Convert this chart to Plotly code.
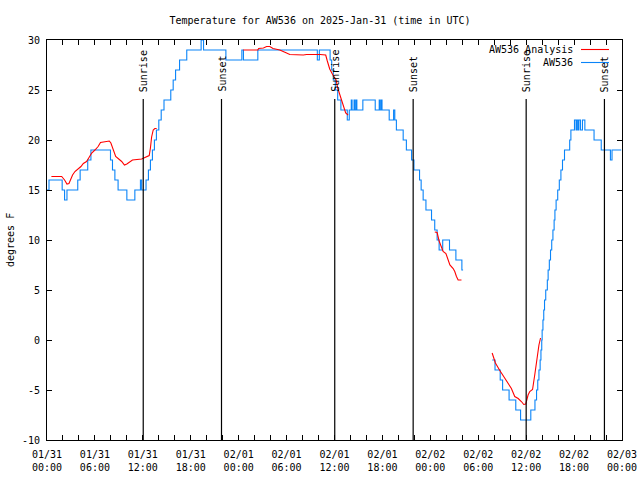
import pandas as pd
import plotly.graph_objects as go

BASE = pd.Timestamp("2025-01-31 00:00")

# ---- Observations (AW536), step changes: hour after BASE, temperature F ----
obs_hours_1 = [0.0, 0.25, 1.9, 2.2, 2.5, 3.85, 4.15, 5.1, 5.5, 7.95, 8.2, 8.5, 8.9, 10.0, 11.0,
               11.7, 11.85, 12.4, 12.7, 12.95, 13.2, 13.45, 13.7, 14.0, 14.3, 14.65, 15.5, 15.8,
               16.1, 16.6, 17.5, 19.3, 19.6, 22.4, 24.4, 24.6, 26.4, 33.85, 34.1, 35.45, 35.65,
               35.85, 36.1, 36.4, 36.8, 37.6, 37.85, 38.1, 38.2, 38.45, 38.55, 38.7, 38.8, 39.55,
               41.1, 41.6, 41.7, 41.85, 41.95, 42.85, 43.4, 43.55, 43.75, 44.6, 45.0, 45.65,
               45.95, 46.65, 46.85, 47.1, 47.45, 48.15, 48.55, 48.85, 49.1, 49.55, 50.4, 51.2,
               51.95, 52.1]
obs_temps_1 = [15, 16, 15, 14, 15, 16, 17, 18, 19, 18, 17, 16, 15, 14, 15,
               16, 15, 16, 17, 18, 19, 20, 21, 22, 23, 24, 25, 26,
               27, 28, 29, 30, 29, 28, 29, 28, 29, 28, 29, 28, 27,
               26, 25, 24, 23, 22, 23, 24, 23, 24, 23, 24, 23, 24,
               23, 24, 23, 24, 23, 22, 23, 22, 21, 20, 19, 18,
               17, 16, 15, 14, 13, 12, 11, 10, 9, 10, 9, 8,
               7, 7]
obs_hours_2 = [55.75, 56.1, 56.75, 57.05, 57.86, 58.7, 59.3, 60.58, 61.1, 61.3, 61.45, 61.6,
               61.75, 61.85, 61.95, 62.0, 62.1, 62.2, 62.3, 62.45, 62.65, 62.75, 62.9, 63.05,
               63.2, 63.35, 63.5, 63.6, 63.75, 63.95, 64.15, 64.35, 64.55, 64.8, 65.45, 65.6,
               66.05, 66.25, 66.35, 66.5, 66.6, 66.8, 67.05, 67.35, 68.5, 69.4, 70.55, 70.75, 71.9]
obs_temps_2 = [-2, -3, -4, -5, -6, -7, -8, -7, -6, -5, -4, -3,
               -2, -1, 0, 1, 2, 3, 4, 5, 6, 7, 8, 9,
               10, 11, 12, 13, 14, 15, 16, 17, 18, 19, 20, 21,
               22, 21, 22, 21, 22, 21, 22, 21, 20, 19, 18, 19, 19]

# ---- Analysis (AW536 Analysis) ----
ana_hours_1 = [0.55, 1.84, 2.2, 2.5, 2.75, 2.9, 3.2, 3.5, 4.25, 4.55, 4.95, 5.3, 5.6, 6.0, 6.4,
               6.7, 7.25, 7.8, 8.0, 8.3, 8.6, 9.35, 9.7, 10.0, 10.4, 10.7, 11.85, 12.45, 12.8,
               12.95, 13.1, 13.3, 13.5, 13.73]
ana_temps_1 = [16.35, 16.35, 16.0, 15.6, 15.65, 16.0, 16.5, 16.85, 17.35, 17.65, 17.85, 18.3,
               18.7, 19.0, 19.35, 19.75, 19.85, 19.9, 19.7, 19.0, 18.35, 17.85, 17.5, 17.6,
               17.85, 18.0, 18.1, 18.3, 18.45, 19.2, 20.3, 21.0, 21.15, 21.15]
ana_hours_2 = [24.57, 26.4, 26.5, 27.1, 27.5, 27.9, 28.3, 29.15, 30.0, 30.4, 32.1, 32.5, 34.2,
               34.9, 35.1, 35.4, 35.8, 36.2, 36.4, 36.6, 36.8, 37.0, 37.4, 37.7]
ana_temps_2 = [29.0, 29.0, 29.15, 29.2, 29.35, 29.35, 29.15, 29.0, 28.7, 28.55, 28.5, 28.55,
               28.55, 28.5, 27.9, 27.1, 26.5, 26.0, 25.2, 24.7, 24.0, 23.5, 22.7, 22.5]
ana_hours_3 = [48.56, 48.85, 49.1, 49.27, 49.6, 49.95, 50.15, 50.45, 50.86, 51.06, 51.27, 51.48, 51.9]
ana_temps_3 = [10.8, 10.75, 9.9, 9.5, 8.85, 8.65, 8.2, 7.5, 7.15, 6.85, 6.35, 6.0, 6.0]
ana_hours_4 = [55.74, 56.15, 56.7, 57.3, 57.7, 58.15, 58.57, 59.0, 59.4, 59.7, 59.95, 60.24,
               60.45, 60.8, 61.1, 61.3, 61.6, 61.8]
ana_temps_4 = [-1.3, -2.3, -3.05, -3.85, -4.25, -4.85, -5.65, -5.85, -6.15, -6.45, -6.4, -5.5,
               -5.15, -4.95, -3.35, -2.0, -0.5, 0.2]

sunrise_hours = [12.05, 36.03, 60.0]
sunset_hours = [21.85, 45.85, 69.8]

y_ticks = [-10, -5, 0, 5, 10, 15, 20, 25, 30]
span_hours = 72

FONT = "DejaVu Sans Mono"
RED = "#ff0000"
BLUE = "#0a84f8"

FIG_W, FIG_H = 640, 480
PL, PT, PR, PB = 47, 40, 18, 40
PW, PH = FIG_W - PL - PR, FIG_H - PT - PB


def ts(h):
    return BASE + pd.Timedelta(hours=h)


def join(segments):
    xs, ys = [], []
    for hs, vs in segments:
        if xs:
            xs.append(ts(hs[0]))
            ys.append(None)
        xs.extend(ts(h) for h in hs)
        ys.extend(vs)
    return xs, ys


def px_x(px):
    return (px - PL) / PW


def px_y(py):
    return (FIG_H - PB - py) / PH


fig = go.Figure()

ax, ay = join([(ana_hours_1, ana_temps_1), (ana_hours_2, ana_temps_2),
               (ana_hours_3, ana_temps_3), (ana_hours_4, ana_temps_4)])
ox, oy = join([(obs_hours_1, obs_temps_1), (obs_hours_2, obs_temps_2)])

fig.add_trace(go.Scatter(x=ox, y=oy, mode="lines", name="AW536",
                         line=dict(color=BLUE, width=1.1, shape="hv"), connectgaps=False))
fig.add_trace(go.Scatter(x=ax, y=ay, mode="lines", name="AW536 Analysis",
                         line=dict(color=RED, width=1.1), connectgaps=False))

shapes = []
annotations = []
for name, hours in (("Sunrise", sunrise_hours), ("Sunset", sunset_hours)):
    for h in hours:
        shapes.append(dict(type="line", xref="x", yref="y", x0=ts(h), x1=ts(h), y0=-10, y1=24.1,
                           line=dict(color="black", width=1.2), layer="above"))
        annotations.append(dict(x=ts(h), y=24.6, xref="x", yref="y", text=name, showarrow=False,
                                textangle=-90, xanchor="center", yanchor="bottom",
                                font=dict(family=FONT, size=10, color="black")))

# manual legend (text left of line sample, as in gnuplot)
for label, color, ypx in (("AW536 Analysis", RED, 49.5), ("AW536", BLUE, 62.5)):
    yp = px_y(ypx)
    annotations.append(dict(x=px_x(575), y=yp, xref="paper", yref="paper", text=label,
                            showarrow=False, xanchor="right", yanchor="middle",
                            font=dict(family=FONT, size=10, color="black")))
    shapes.append(dict(type="line", xref="paper", yref="paper", x0=px_x(581),
                       x1=px_x(609), y0=yp, y1=yp, line=dict(color=color, width=1.1)))

annotations.append(dict(x=px_x(10), y=0.5, xref="paper", yref="paper", text="degrees F",
                        showarrow=False, textangle=-90, xanchor="center", yanchor="middle",
                        font=dict(family=FONT, size=10, color="black")))

x_tickvals = [ts(h) for h in range(0, span_hours + 1, 2)]
x_ticktext = [(ts(h).strftime("%m/%d") + "<br>" + ts(h).strftime("%H:%M")) if h % 6 == 0 else ""
              for h in range(0, span_hours + 1, 2)]

fig.update_layout(
    width=FIG_W, height=FIG_H,
    margin=dict(l=PL, r=PR, t=PT, b=PB, pad=0),
    paper_bgcolor="white", plot_bgcolor="white",
    showlegend=False,
    font=dict(family=FONT, size=10, color="black"),
    title=dict(text="Temperature for AW536 on 2025-Jan-31 (time in UTC)", x=0.5,
               xanchor="center", y=1 - 20 / FIG_H, yanchor="middle",
               font=dict(family=FONT, size=10, color="black")),
    shapes=shapes,
    annotations=annotations,
)
fig.update_xaxes(type="date", range=[ts(0), ts(span_hours)], tickvals=x_tickvals, ticktext=x_ticktext,
                 ticks="inside", ticklen=5, tickcolor="black", showline=True, linecolor="black",
                 linewidth=1, mirror="ticks", showgrid=False, zeroline=False, automargin=False,
                 ticklabelstandoff=5,
                 tickfont=dict(family=FONT, size=10, color="black"))
fig.update_yaxes(range=[-10, 30], tickvals=y_ticks, ticktext=[str(v) for v in y_ticks],
                 ticks="inside", ticklen=5, tickcolor="black", showline=True, linecolor="black",
                 linewidth=1, mirror="ticks", showgrid=False, zeroline=False, automargin=False,
                 ticklabelstandoff=4,
                 tickfont=dict(family=FONT, size=10, color="black"))

# remove the default 8px page margin so the 640x480 figure fills the window
fig.write_html("out.html", config={"displayModeBar": False},
               post_script="document.body.style.margin='0';")
